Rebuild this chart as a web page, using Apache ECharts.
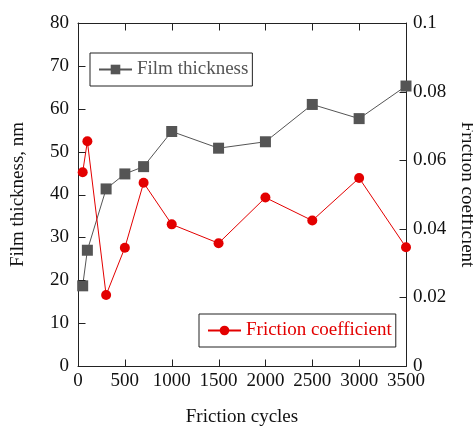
<!DOCTYPE html>
<html>
<head>
<meta charset="utf-8">
<script src="https://cdn.jsdelivr.net/npm/echarts@6/dist/echarts.min.js"></script>
<style>
  html, body { margin: 0; padding: 0; background: #fff; overflow: hidden; width: 100%; height: 100%; }
  #chart { width: 473px; height: 426px; overflow: hidden; }
</style>
</head>
<body>
<div id="chart"></div>
<script>
// Friction cycles at which both quantities were measured
const cycles = [50, 100, 300, 500, 700, 1000, 1500, 2000, 2500, 3000, 3500];
// Film thickness, nm (left axis)
const filmThickness = [18.7, 27.0, 41.3, 44.8, 46.5, 54.7, 50.8, 52.3, 61.0, 57.7, 65.3];
// Friction coefficient (right axis)
const frictionCoef = [0.0565, 0.0655, 0.0207, 0.0345, 0.0534, 0.0413, 0.0358, 0.0491, 0.0424, 0.0548, 0.0346];

const seriesNames = ['Film thickness', 'Friction coefficient'];

// axis ranges and steps
const xRange = { min: 0, max: 3500, interval: 500 };
const thickRange = { min: 0, max: 80, interval: 10 };
const coefRange = { min: 0, max: 0.1, interval: 0.02 };

const FONT = '"Liberation Serif", "Times New Roman", serif';
const AXIS_COLOR = '#222';
const GRAY = '#555555';
const RED = '#e30000';
const TICK = 7;

const pairs = (xs, ys) => xs.map((x, i) => [x, ys[i]]);
const tickValues = r => {
  const n = Math.round((r.max - r.min) / r.interval);
  return Array.from({ length: n + 1 }, (_, i) => r.min + i * r.interval);
};

const chart = echarts.init(document.getElementById('chart'), null, { renderer: 'canvas', width: 473, height: 426 });

const axisText = { color: '#111', fontFamily: FONT, fontSize: 19 };
const plain = v => String(v);
const line = { show: true, onZero: false, lineStyle: { color: AXIS_COLOR, width: 1 } };

// Inward tick marks, drawn as custom series so they go through the axis scales
const crisp = v => Math.round(v) + 0.5;
const tickLine = (x1, y1, x2, y2) => ({
  type: 'line',
  shape: { x1: crisp(x1), y1: crisp(y1), x2: crisp(x2), y2: crisp(y2) },
  style: { stroke: AXIS_COLOR, lineWidth: 1, fill: null }
});
const tickSeries = (data, yAxisIndex, render) => ({
  type: 'custom', xAxisIndex: 0, yAxisIndex, data, silent: true, clip: false, z: 5,
  tooltip: { show: false },
  renderItem: (params, api) => render(api)
});

const xTickSeries = tickSeries(tickValues(xRange).map(v => [v, thickRange.min]), 0, api => {
  const b = api.coord([api.value(0), thickRange.min]);
  const t = api.coord([api.value(0), thickRange.max]);
  return { type: 'group', children: [
    tickLine(b[0], b[1], b[0], b[1] - TICK),
    tickLine(t[0], t[1], t[0], t[1] + TICK)
  ] };
});
const leftTickSeries = tickSeries(tickValues(thickRange).map(v => [xRange.min, v]), 0, api => {
  const p = api.coord([xRange.min, api.value(1)]);
  return tickLine(p[0], p[1], p[0] + TICK, p[1]);
});
const rightTickSeries = tickSeries(tickValues(coefRange).map(v => [xRange.max, v]), 1, api => {
  const p = api.coord([xRange.max, api.value(1)]);
  return tickLine(p[0], p[1], p[0] - TICK, p[1]);
});

chart.setOption({
  animation: false,
  backgroundColor: '#fff',
  grid: { left: 78, right: 67, top: 23, bottom: 60, containLabel: false, outerBoundsMode: 'none' },
  legend: [
    {
      data: [seriesNames[0]],
      left: 90, top: 53,
      orient: 'vertical',
      itemWidth: 33, itemHeight: 12,
      padding: [7, 4, 7, 8],
      borderColor: AXIS_COLOR, borderWidth: 1, borderRadius: 0,
      textStyle: { fontFamily: FONT, fontSize: 19, color: GRAY }
    },
    {
      data: [seriesNames[1]],
      left: 199, top: 314,
      orient: 'vertical',
      itemWidth: 33, itemHeight: 12,
      padding: [7, 4, 7, 8],
      borderColor: AXIS_COLOR, borderWidth: 1, borderRadius: 0,
      textStyle: { fontFamily: FONT, fontSize: 19, color: RED }
    }
  ],
  xAxis: [
    {
      type: 'value', ...xRange, position: 'bottom',
      name: 'Friction cycles', nameLocation: 'middle', nameGap: 42,
      nameTextStyle: axisText,
      axisLine: line, axisTick: { show: false }, splitLine: { show: false },
      axisLabel: { ...axisText, margin: 6, formatter: plain }
    },
    {
      type: 'value', ...xRange, position: 'top',
      axisLine: line, axisTick: { show: false }, splitLine: { show: false },
      axisLabel: { show: false }
    }
  ],
  yAxis: [
    {
      type: 'value', ...thickRange, position: 'left',
      name: 'Film thickness, nm', nameLocation: 'middle', nameGap: 50,
      nameTextStyle: axisText,
      axisLine: line, axisTick: { show: false }, splitLine: { show: false },
      axisLabel: { ...axisText, margin: 9, formatter: plain }
    },
    {
      type: 'value', ...coefRange, position: 'right',
      name: 'Friction coefficient', nameLocation: 'middle', nameGap: 46, nameRotate: -90,
      nameTextStyle: axisText,
      axisLine: line, axisTick: { show: false }, splitLine: { show: false },
      axisLabel: { ...axisText, margin: 7, formatter: plain }
    }
  ],
  series: [
    {
      name: seriesNames[0],
      type: 'line',
      xAxisIndex: 0,
      yAxisIndex: 0,
      data: pairs(cycles, filmThickness),
      symbol: 'rect', symbolSize: 11,
      lineStyle: { color: GRAY, width: 1 },
      itemStyle: { color: GRAY },
      z: 3
    },
    {
      name: seriesNames[1],
      type: 'line',
      xAxisIndex: 0,
      yAxisIndex: 1,
      data: pairs(cycles, frictionCoef),
      symbol: 'circle', symbolSize: 10,
      lineStyle: { color: RED, width: 1 },
      itemStyle: { color: RED },
      z: 4
    },
    xTickSeries,
    leftTickSeries,
    rightTickSeries
  ]
});
</script>
</body>
</html>
